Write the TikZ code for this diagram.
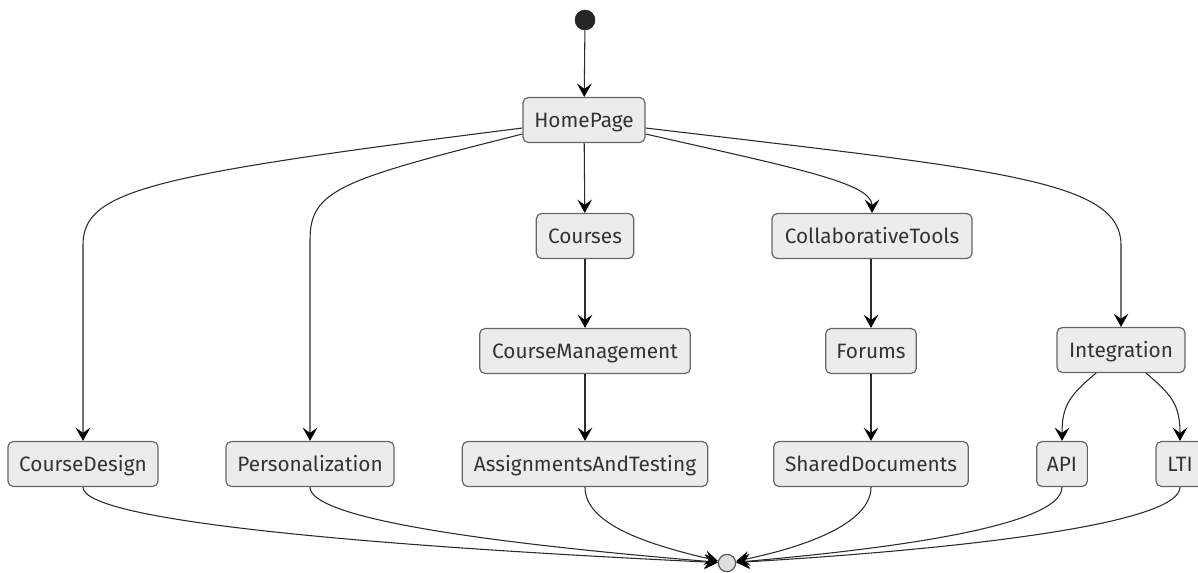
\documentclass[tikz,border=0pt]{standalone}
\usepackage{fontspec}
\setmainfont{Fira Sans}
\usetikzlibrary{arrows.meta,calc}
\definecolor{boxfill}{HTML}{ECECEC}
\definecolor{boxline}{HTML}{666666}
\definecolor{edgecol}{HTML}{2A2A2A}
\definecolor{txtcol}{HTML}{333333}
\tikzset{
  state/.style={draw=boxline, fill=boxfill, line width=0.9pt, rounded corners=4pt,
    minimum height=33.75pt, inner xsep=0pt, text=txtcol,
    text height=11pt, text depth=0pt,
    font=\fontsize{15.6}{18}\selectfont},
  flow/.style={draw=edgecol, line width=0.8pt,
    -{Stealth[length=10pt, width=11pt, inset=4pt, color=black]}},
  startdot/.style={circle, fill=black!85, draw=black!85, minimum size=15pt, inner sep=0pt},
  enddot/.style={circle, fill=black!13, draw=black!65, line width=0.9pt, minimum size=13pt, inner sep=0pt}
}
\begin{document}
\begin{tikzpicture}[x=0.75pt, y=-0.75pt]
\useasboundingbox (0,0) rectangle (1198,572);

% states
\node[startdot] (start) at (585,20) {};
\node[state, minimum width=91.5pt]  (home)   at (584,120) {HomePage};
\node[state, minimum width=73pt]    (courses) at (585,236) {Courses};
\node[state, minimum width=150pt]   (collab) at (872,236) {CollaborativeTools};
\node[state, minimum width=158pt]   (cman)   at (585,351) {CourseManagement};
\node[state, minimum width=68pt]    (forums) at (871,351) {Forums};
\node[state, minimum width=96pt]    (integ)  at (1121,350) {Integration};
\node[state, minimum width=112.5pt] (design) at (83,464) {CourseDesign};
\node[state, minimum width=126pt]   (pers)   at (310,464) {Personalization};
\node[state, minimum width=184pt]   (assign) at (585,464) {AssignmentsAndTesting};
\node[state, minimum width=146pt]   (shared) at (871,464) {SharedDocuments};
\node[state, minimum width=38pt]    (api)    at (1062,464) {API};
\node[state, minimum width=36pt]    (lti)    at (1180,464) {LTI};
\node[enddot] (end) at (727,563) {};

% anchor points on the home box
\coordinate (hL1) at ($(home.west)+(0,8)$);
\coordinate (hL2) at ($(home.west)+(0,14)$);
\coordinate (hR1) at ($(home.east)+(0,8)$);
\coordinate (hR2) at ($(home.east)+(0,14)$);

% straight transitions
\draw[flow] (start) -- (home);
\draw[flow] (home) -- (courses);
\draw[flow] (courses) -- (cman);
\draw[flow] (cman) -- (assign);
\draw[flow] (collab.south -| forums) -- (forums);
\draw[flow] (forums) -- (shared);

% branching transitions out of the home page
\draw[flow] (hL1) .. controls (150,175) and (83,190) .. (83,245) -- (design.north);
\draw[flow] (hL2) .. controls (340,180) and (310,190) .. (310,240) -- (pers.north);
\draw[flow] (hR2) .. controls (795,168) and (872,183) .. (collab.north);
\draw[flow] (hR1) .. controls (1000,170) and (1121,180) .. (1121,245) -- (integ.north);

% integration branches
\draw[flow] (integ.south) ++(-25,0) .. controls (1070,395) and (1062,405) .. (api.north);
\draw[flow] (integ.south) ++(25,0) .. controls (1172,395) and (1180,405) .. (lti.north);

% transitions into the final state
\draw[flow] (design.south) .. controls (83,520) and (350,545) .. (end);
\draw[flow] (pers.south) .. controls (310,515) and (450,540) .. (end);
\draw[flow] (assign.south) .. controls (585,525) and (650,545) .. (end);
\draw[flow] (shared.south) .. controls (871,525) and (800,548) .. (end);
\draw[flow] (api.south) .. controls (1062,525) and (900,548) .. (end);
\draw[flow] (lti.south) .. controls (1180,525) and (950,550) .. (end);
\end{tikzpicture}
\end{document}
